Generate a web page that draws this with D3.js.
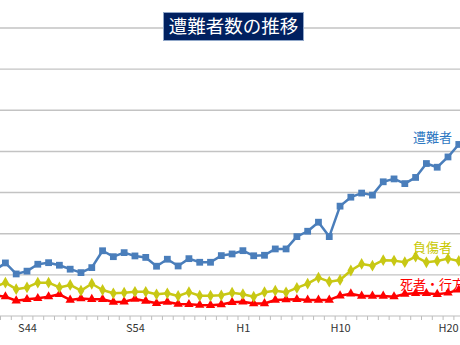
<!DOCTYPE html>
<html>
<head>
<meta charset="utf-8">
<script src="https://cdn.jsdelivr.net/npm/d3@7"></script>
<style>
  html, body { margin: 0; padding: 0; background: #ffffff; }
  svg { display: block; }
  text { font-family: "Noto Sans CJK JP", "Noto Sans", sans-serif; }
</style>
</head>
<body>
<svg id="chart" width="460" height="345"></svg>
<script>
// Years (Showa 41 to Heisei 21)
const years = d3.range(1966, 2010);

// 遭難者 (persons)
const victims = [
  555, 645, 511, 545, 629, 648, 617, 569, 527, 588,
  793, 721, 770, 730, 712, 605, 690, 608, 697, 653,
  653, 734, 754, 794, 732, 738, 815, 815, 965, 1030,
  1140, 965, 1335, 1444, 1494, 1469, 1631, 1666, 1609, 1684,
  1853, 1808, 1933, 2085
];

// 負傷者 (persons)
const injured = [
  349, 405, 326, 347, 405, 405, 347, 377, 308, 392,
  316, 276, 283, 294, 294, 264, 276, 243, 290, 246,
  246, 252, 283, 265, 235, 290, 308, 288, 341, 393,
  466, 417, 438, 553, 633, 612, 678, 673, 654, 721,
  653, 669, 697, 669
];

// 死者・行方不明者 (persons)
const dead = [
  249, 235, 185, 203, 215, 235, 264, 195, 213, 204,
  204, 170, 174, 207, 182, 154, 170, 146, 142, 134,
  131, 140, 168, 174, 152, 152, 195, 201, 203, 195,
  195, 195, 247, 271, 243, 243, 243, 235, 268, 276,
  276, 264, 281, 317
];

// Era labels shown under the axis
const tickYears = [1969, 1979, 1989, 1998, 2008];
const tickLabels = ["S44", "S54", "H1", "H10", "H20"];

const gridValues = [500, 1000, 1500, 2000, 2500, 3000, 3500];

const svg = d3.select("#chart");

const x = d3.scaleLinear().domain([1969, 2008]).range([27, 448]);
const y = d3.scaleLinear().domain([0, 3500]).range([316, 28]);

// horizontal gridlines
svg.append("g")
  .selectAll("line")
  .data(gridValues)
  .join("line")
  .attr("x1", 0).attr("x2", 460)
  .attr("y1", d => y(d)).attr("y2", d => y(d))
  .attr("stroke", "#c3c3c3")
  .attr("stroke-width", 1.4);

// category axis: tick marks between years
const tickAxis = d3.axisBottom(x)
  .tickValues(d3.range(1965.5, 2010.5, 1))
  .tickSize(4)
  .tickFormat("");
const gAxis = svg.append("g")
  .attr("transform", `translate(0,${y(0)})`)
  .call(tickAxis);
gAxis.select(".domain").attr("stroke", "#bdbdbd").attr("stroke-width", 1.2)
  .attr("d", `M0,0H460`);
gAxis.selectAll(".tick line").attr("stroke", "#bdbdbd");

// era labels
const labelAxis = d3.axisBottom(x)
  .tickValues(tickYears)
  .tickSize(0)
  .tickPadding(8)
  .tickFormat((d, i) => tickLabels[i]);
const gLab = svg.append("g")
  .attr("transform", `translate(0,${y(0)})`)
  .call(labelAxis);
gLab.select(".domain").remove();
gLab.selectAll("text")
  .attr("font-family", "'Liberation Sans', Arial, sans-serif")
  .attr("font-size", 11)
  .attr("fill", "#333333");

const series = [
  { name: "遭難者", values: victims, color: "#4a7ebb", shape: d3.symbolSquare, size: 46 },
  { name: "負傷者", values: injured, color: "#c8c814", shape: d3.symbolDiamond, size: 40 },
  { name: "死者・行方不明者", values: dead, color: "#ff0000", shape: d3.symbolTriangle, size: 38 }
];

const line = d3.line()
  .x(d => x(d[0]))
  .y(d => y(d[1]));

series.slice().reverse().forEach(s => {
  const pts = years.map((yr, i) => [yr, s.values[i]]);
  const g = svg.append("g");
  g.append("path")
    .datum(pts)
    .attr("d", line)
    .attr("fill", "none")
    .attr("stroke", s.color)
    .attr("stroke-width", 2.5)
    .attr("stroke-linejoin", "round");
  g.selectAll("path.m")
    .data(pts)
    .join("path")
    .attr("class", "m")
    .attr("transform", d => `translate(${x(d[0])},${y(d[1])})`)
    .attr("d", d3.symbol().type(s.shape).size(s.size))
    .attr("fill", s.color);
});

// series names
const nameLabels = [
  { text: "遭難者", x: 413, y: 142, color: "#2e78c2" },
  { text: "負傷者", x: 413, y: 252, color: "#c8c800" },
  { text: "死者・行方不明者", x: 400, y: 289, color: "#ff0000" }
];
svg.append("g")
  .selectAll("text")
  .data(nameLabels)
  .join("text")
  .attr("x", d => d.x)
  .attr("y", d => d.y)
  .attr("font-size", 13)
  .attr("fill", d => d.color)
  .text(d => d.text);

// title box
const title = svg.append("g");
title.append("rect")
  .attr("x", 163.5).attr("y", 12.5)
  .attr("width", 140).attr("height", 28)
  .attr("fill", "#002060")
  .attr("stroke", "#8fa6c8")
  .attr("stroke-width", 1);
title.append("text")
  .attr("x", 233.5).attr("y", 33)
  .attr("text-anchor", "middle")
  .attr("font-size", 18.5)
  .attr("fill", "#ffffff")
  .text("遭難者数の推移");
</script>
</body>
</html>
